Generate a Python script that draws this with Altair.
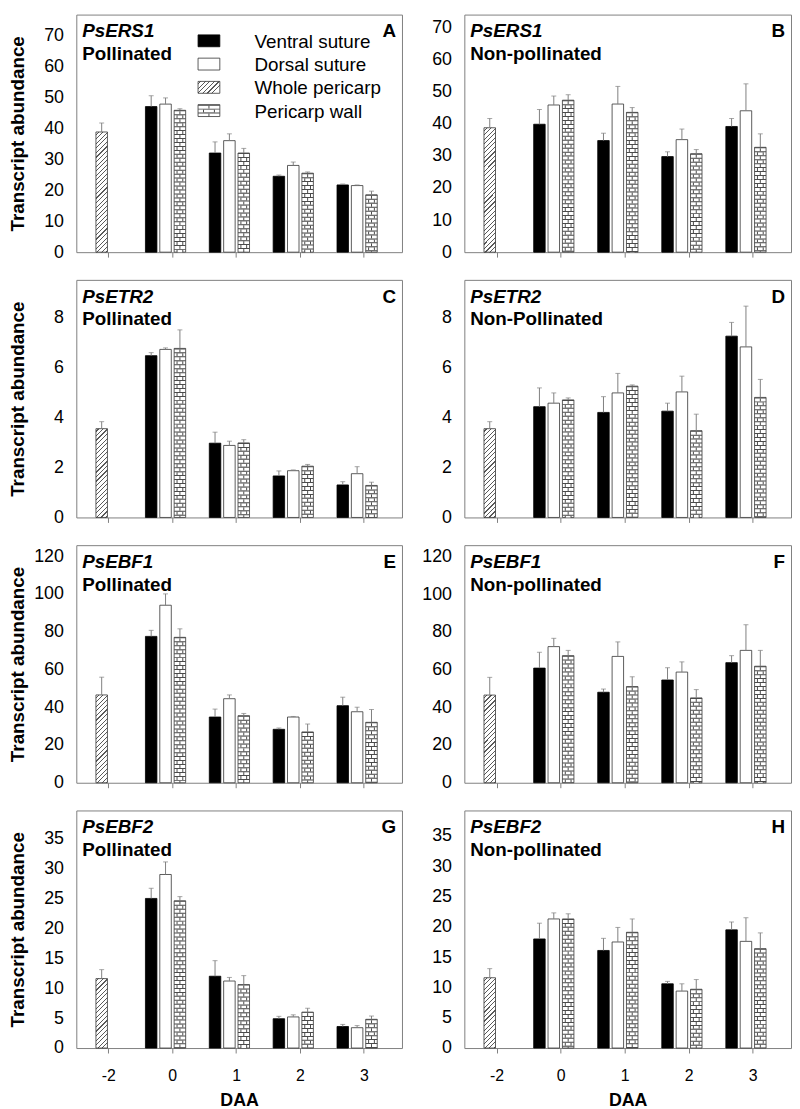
import altair as alt
import pandas as pd

# ------------------------------------------------------------------ data
DAA = ["-2", "0", "1", "2", "3"]
SERIES = ["Ventral suture", "Dorsal suture", "Whole pericarp", "Pericarp wall"]
LETTERS = ["A", "B", "C", "D", "E", "F", "G", "H"]
GENES = ["PsERS1", "PsERS1", "PsETR2", "PsETR2", "PsEBF1", "PsEBF1", "PsEBF2", "PsEBF2"]
CONDITIONS = ["Pollinated", "Non-pollinated", "Pollinated", "Non-Pollinated",
              "Pollinated", "Non-pollinated", "Pollinated", "Non-pollinated"]
Y_MAX = [76.7, 74.1, 9.5, 9.5, 125.8, 126.0, 39.7, 39.2]
TICKS_ERS1 = [0, 10, 20, 30, 40, 50, 60, 70]
TICKS_ETR2 = [0, 2, 4, 6, 8]
TICKS_EBF1 = [0, 20, 40, 60, 80, 100, 120]
TICKS_EBF2 = [0, 5, 10, 15, 20, 25, 30, 35]

# whole pericarp at -2 DAA (mean, s.e.)
WHOLE_ERS1 = [38.8, 2.9]
WHOLE_ETR2 = [3.55, 0.28]
WHOLE_EBF1 = [46.5, 9.4]
WHOLE_EBF2 = [11.6, 1.5]

# values at 0, 1, 2, 3 DAA
A_VENTRAL = [47.0, 32.0, 24.5, 21.7]; A_VENTRAL_SE = [3.5, 3.6, 0.4, 0.3]
A_DORSAL = [47.8, 36.0, 28.0, 21.5];  A_DORSAL_SE = [2.0, 2.2, 1.1, 0.2]
A_WALL = [45.8, 32.0, 25.5, 18.5];    A_WALL_SE = [0.5, 1.5, 0.4, 1.2]

B_VENTRAL = [39.9, 34.8, 29.8, 39.2]; B_VENTRAL_SE = [4.6, 2.3, 1.5, 2.5]
B_DORSAL = [45.9, 46.2, 35.1, 44.1];  B_DORSAL_SE = [2.8, 5.5, 3.3, 8.4]
B_WALL = [47.4, 43.6, 30.7, 32.7];    B_WALL_SE = [1.7, 1.5, 1.3, 4.2]

C_VENTRAL = [6.47, 2.97, 1.66, 1.30]; C_VENTRAL_SE = [0.12, 0.44, 0.20, 0.13]
C_DORSAL = [6.72, 2.88, 1.87, 1.75];  C_DORSAL_SE = [0.06, 0.17, 0.03, 0.28]
C_WALL = [6.76, 2.98, 2.05, 1.28];    C_WALL_SE = [0.74, 0.13, 0.07, 0.13]

D_VENTRAL = [4.43, 4.20, 4.25, 7.25]; D_VENTRAL_SE = [0.75, 0.63, 0.32, 0.55]
D_DORSAL = [4.57, 4.98, 5.02, 6.82];  D_DORSAL_SE = [0.41, 0.78, 0.63, 1.63]
D_WALL = [4.70, 5.25, 3.47, 4.80];    D_WALL_SE = [0.08, 0.05, 0.66, 0.72]

E_VENTRAL = [77.5, 34.8, 28.3, 40.8]; E_VENTRAL_SE = [3.2, 4.2, 0.7, 4.5]
E_DORSAL = [94.0, 44.5, 34.8, 37.6];  E_DORSAL_SE = [6.0, 2.0, 0.3, 2.4]
E_WALL = [77.0, 35.5, 26.9, 32.0];    E_WALL_SE = [4.5, 1.2, 4.2, 6.8]

F_VENTRAL = [60.8, 48.0, 54.5, 63.7]; F_VENTRAL_SE = [8.4, 1.7, 6.5, 3.7]
F_DORSAL = [72.2, 67.0, 58.7, 70.2];  F_DORSAL_SE = [4.4, 7.7, 5.4, 13.6]
F_WALL = [67.4, 51.0, 45.0, 61.8];    F_WALL_SE = [2.8, 5.2, 4.4, 8.4]

G_VENTRAL = [25.0, 12.0, 4.9, 3.6];   G_VENTRAL_SE = [1.7, 2.6, 0.4, 0.35]
G_DORSAL = [29.0, 11.2, 5.2, 3.4];    G_DORSAL_SE = [2.1, 0.6, 0.35, 0.35]
G_WALL = [24.6, 10.6, 6.0, 4.8];      G_WALL_SE = [0.7, 1.5, 0.65, 0.55]

H_VENTRAL = [18.0, 16.1, 10.6, 19.5]; H_VENTRAL_SE = [2.6, 2.0, 0.4, 1.3]
H_DORSAL = [21.3, 17.5, 9.4, 17.6];   H_DORSAL_SE = [1.0, 2.4, 1.2, 3.9]
H_WALL = [21.3, 19.1, 9.7, 16.4];     H_WALL_SE = [0.85, 2.2, 1.6, 2.6]

PANELS = [
    (A_VENTRAL, A_VENTRAL_SE, A_DORSAL, A_DORSAL_SE, A_WALL, A_WALL_SE, WHOLE_ERS1, TICKS_ERS1),
    (B_VENTRAL, B_VENTRAL_SE, B_DORSAL, B_DORSAL_SE, B_WALL, B_WALL_SE, WHOLE_ERS1, TICKS_ERS1),
    (C_VENTRAL, C_VENTRAL_SE, C_DORSAL, C_DORSAL_SE, C_WALL, C_WALL_SE, WHOLE_ETR2, TICKS_ETR2),
    (D_VENTRAL, D_VENTRAL_SE, D_DORSAL, D_DORSAL_SE, D_WALL, D_WALL_SE, WHOLE_ETR2, TICKS_ETR2),
    (E_VENTRAL, E_VENTRAL_SE, E_DORSAL, E_DORSAL_SE, E_WALL, E_WALL_SE, WHOLE_EBF1, TICKS_EBF1),
    (F_VENTRAL, F_VENTRAL_SE, F_DORSAL, F_DORSAL_SE, F_WALL, F_WALL_SE, WHOLE_EBF1, TICKS_EBF1),
    (G_VENTRAL, G_VENTRAL_SE, G_DORSAL, G_DORSAL_SE, G_WALL, G_WALL_SE, WHOLE_EBF2, TICKS_EBF2),
    (H_VENTRAL, H_VENTRAL_SE, H_DORSAL, H_DORSAL_SE, H_WALL, H_WALL_SE, WHOLE_EBF2, TICKS_EBF2),
]

# ------------------------------------------------------------------ style
FONT = "Liberation Sans"
W_LEFT, W_RIGHT, H = 329, 330, 240
FRAME = "#808080"
ERR = "#808080"
EDGE = "#333333"
PAT = "#4a4a4a"
HATCH = "#5a5a5a"
SLOTS = ["s1", "s2", "s3", "s4"]
PAD_IN, PAD_OUT, ALIGN = 0.1, 0.1, 0.3
SLOT_PAD_IN, SLOT_PAD_OUT = 0.2, 0.1


def bar_px(width):
    step = width / (len(DAA) - PAD_IN + 2 * PAD_OUT)
    band = step * (1 - PAD_IN)
    slot_step = band / (len(SLOTS) - SLOT_PAD_IN + 2 * SLOT_PAD_OUT)
    return slot_step * (1 - SLOT_PAD_IN)


def hatch_gradient(w, h, period=4.6, lw=1.15, color=HATCH, bg="white"):
    """Diagonal (/) hatching drawn as a bounding-box linear gradient."""
    k = h / w
    denom = w * (1 + k * k)
    stops = [{"offset": 0, "color": bg}]
    s = period * 0.5
    while s < w + h:
        t0 = round(s / denom, 6)
        t1 = round((s + lw) / denom, 6)
        if t1 >= 1:
            break
        stops += [{"offset": t0, "color": bg}, {"offset": t0, "color": color},
                  {"offset": t1, "color": color}, {"offset": t1, "color": bg}]
        s += period
    stops.append({"offset": 1, "color": bg})
    return {"gradient": "linear", "x1": 0, "y1": 0, "x2": 1, "y2": k, "stops": stops}


def make_panel(i):
    ven, ven_se, dor, dor_se, wal, wal_se, whole, ticks = PANELS[i]
    left = i % 2 == 0
    bottom = i >= 6
    width = W_LEFT if left else W_RIGHT
    ymax = Y_MAX[i]
    bw = bar_px(width)

    rows = [{"daa": DAA[0], "series": SERIES[2], "slot": "s2", "mean": whole[0], "se": whole[1]}]
    for j, d in enumerate(DAA[1:]):
        rows.append({"daa": d, "series": SERIES[0], "slot": "s1", "mean": ven[j], "se": ven_se[j]})
        rows.append({"daa": d, "series": SERIES[1], "slot": "s2", "mean": dor[j], "se": dor_se[j]})
        rows.append({"daa": d, "series": SERIES[3], "slot": "s3", "mean": wal[j], "se": wal_se[j]})
    df = pd.DataFrame(rows)
    df["top"] = df["mean"] + df["se"]

    xaxis = dict(labelAngle=0, ticks=True, tickSize=5, tickColor=FRAME, domain=False,
                 grid=False, labels=bottom, labelFontSize=16, labelPadding=15,
                 labelColor="black", title=None)
    if bottom:
        xaxis.update(title="DAA", titleFontSize=18, titleFontWeight="bold",
                     titlePadding=8, titleColor="black")
    X = alt.X("daa:N", sort=DAA,
              scale=alt.Scale(domain=DAA, paddingInner=PAD_IN, paddingOuter=PAD_OUT, align=ALIGN),
              axis=alt.Axis(**xaxis))
    XO = alt.XOffset("slot:N", scale=alt.Scale(domain=SLOTS, paddingInner=SLOT_PAD_IN,
                                               paddingOuter=SLOT_PAD_OUT))
    yaxis = dict(values=ticks, tickSize=0, domain=False, grid=False, labelFontSize=18,
                 labelPadding=13, labelColor="black", minExtent=45, maxExtent=45, title=None)
    if left:
        yaxis.update(title="Transcript abundance", titleFontSize=19, titleFontWeight="bold",
                     titlePadding=4, titleColor="black")
    yscale = alt.Scale(domain=[0, ymax], nice=False, zero=True)

    def Y(field):
        return alt.Y(f"{field}:Q", scale=yscale, axis=alt.Axis(**yaxis))

    base = alt.Chart(df)
    ventral = base.transform_filter(alt.datum.series == SERIES[0])
    dorsal = base.transform_filter(alt.datum.series == SERIES[1])
    wholep = base.transform_filter(alt.datum.series == SERIES[2])
    wall = base.transform_filter(alt.datum.series == SERIES[3])

    enc = dict(x=X, xOffset=XO)
    layers = [
        ventral.mark_bar(fill="black", stroke="black", strokeWidth=0.8).encode(y=Y("mean"), **enc),
        dorsal.mark_bar(fill="white", stroke=EDGE, strokeWidth=0.8).encode(y=Y("mean"), **enc),
        wall.mark_bar(fill="white", stroke=EDGE, strokeWidth=0.8).encode(y=Y("mean"), **enc),
        # brick pattern: quarter joints (odd rows)
        wall.mark_rule(color=PAT, strokeWidth=bw / 2 + 1, strokeDash=[0, 5, 3, 0])
            .encode(y=Y("mean"), y2=alt.datum(0), **enc),
        wall.mark_rule(color="white", strokeWidth=bw / 2 - 1, strokeDash=[0, 5, 3, 0])
            .encode(y=Y("mean"), y2=alt.datum(0), **enc),
        # centre joints (even rows)
        wall.mark_rule(color=PAT, strokeWidth=1, strokeDash=[0, 1, 3, 4])
            .encode(y=Y("mean"), y2=alt.datum(0), **enc),
        # horizontal mortar lines
        wall.mark_rule(color=PAT, strokeWidth=bw, strokeDash=[1, 3])
            .encode(y=Y("mean"), y2=alt.datum(0), **enc),
        wholep.mark_bar(fill=hatch_gradient(bw, whole[0] / ymax * H), stroke=EDGE, strokeWidth=0.8)
            .encode(y=Y("mean"), **enc),
        # error bars
        base.mark_rule(color=ERR, strokeWidth=1).encode(y=Y("mean"), y2="top:Q", **enc),
        base.mark_tick(color=ERR, size=5, thickness=1).encode(y=Y("top"), **enc),
    ]

    txt = dict(font=FONT, fontSize=19, fontWeight="bold", baseline="alphabetic")
    layers.append(alt.Chart(pd.DataFrame({"t": [GENES[i]]}))
                  .mark_text(align="left", fontStyle="italic", **txt)
                  .encode(text="t:N", x=alt.value(6), y=alt.value(23)))
    layers.append(alt.Chart(pd.DataFrame({"t": [CONDITIONS[i]]}))
                  .mark_text(align="left", **txt)
                  .encode(text="t:N", x=alt.value(6), y=alt.value(46)))
    layers.append(alt.Chart(pd.DataFrame({"t": [LETTERS[i]]}))
                  .mark_text(align="right", **txt)
                  .encode(text="t:N", x=alt.value(width - 6), y=alt.value(23)))

    if i == 0:
        # legend inside panel A
        sw_x0, sw_x1, sw_h, row0, step = 123, 145, 12, 26.5, 23.5
        sw_xc = (sw_x0 + sw_x1) / 2
        for k, name in enumerate(SERIES):
            cy = row0 + k * step
            y0, y1 = cy - sw_h / 2, cy + sw_h / 2
            ldf = pd.DataFrame({"t": [name]})
            box = dict(x=alt.value(sw_x0), x2=alt.value(sw_x1), y=alt.value(y0), y2=alt.value(y1))
            if k == 0:
                layers.append(alt.Chart(ldf).mark_rect(fill="black", stroke="black", strokeWidth=0.8).encode(**box))
            elif k == 1:
                layers.append(alt.Chart(ldf).mark_rect(fill="white", stroke=EDGE, strokeWidth=0.8).encode(**box))
            elif k == 2:
                layers.append(alt.Chart(ldf).mark_rect(fill=hatch_gradient(sw_x1 - sw_x0, sw_h),
                                                       stroke=EDGE, strokeWidth=0.8).encode(**box))
            else:
                layers.append(alt.Chart(ldf).mark_rect(fill="white", stroke=EDGE, strokeWidth=0.8).encode(**box))
                rline = dict(x=alt.value(sw_xc), y=alt.value(y0), y2=alt.value(y1))
                layers.append(alt.Chart(ldf).mark_rule(color=PAT, strokeWidth=12, strokeDash=[0, 5, 3, 0]).encode(**rline))
                layers.append(alt.Chart(ldf).mark_rule(color="white", strokeWidth=10, strokeDash=[0, 5, 3, 0]).encode(**rline))
                layers.append(alt.Chart(ldf).mark_rule(color=PAT, strokeWidth=1, strokeDash=[0, 1, 3, 4]).encode(**rline))
                layers.append(alt.Chart(ldf).mark_rule(color=PAT, strokeWidth=sw_x1 - sw_x0, strokeDash=[1, 3]).encode(**rline))
            layers.append(alt.Chart(ldf).mark_text(font=FONT, fontSize=19, align="left", baseline="middle")
                          .encode(text="t:N", x=alt.value(180), y=alt.value(cy + 1)))

    return alt.layer(*layers).properties(width=width, height=H)


panels = [make_panel(i) for i in range(8)]
rows = [alt.hconcat(panels[2 * r], panels[2 * r + 1], spacing=16) for r in range(4)]
chart = (
    alt.vconcat(*rows, spacing=17)
    .properties(padding={"left": 0, "top": 0, "right": 0, "bottom": 0})
    .configure(font=FONT, padding={"left": 0, "top": 0, "right": 0, "bottom": 0})
    .configure_view(stroke=FRAME, strokeWidth=1)
)

chart.save("out.html", embed_options={"renderer": "svg", "actions": False})
